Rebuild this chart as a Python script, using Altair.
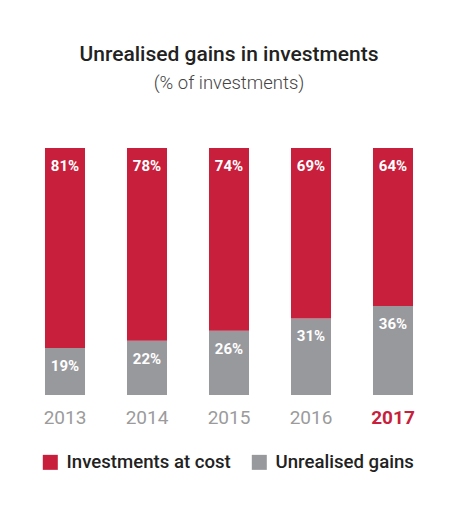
import altair as alt
import pandas as pd

years = ["2013", "2014", "2015", "2016", "2017"]
at_cost = [81, 78, 74, 69, 64]
gains = [19, 22, 26, 31, 36]
series = ["Investments at cost", "Unrealised gains"]
colors = ["#C81F3D", "#98999D"]

rows = []
for y, c, g in zip(years, at_cost, gains):
    rows.append({"year": y, "series": series[1], "start": 0, "end": g, "label": f"{g}%"})
    rows.append({"year": y, "series": series[0], "start": g, "end": g + c, "label": f"{c}%"})
df = pd.DataFrame(rows)

FONT = "Roboto"

x = alt.X("year:N", title=None, sort=years,
          scale=alt.Scale(paddingInner=0.512, paddingOuter=0.256),
          axis=alt.Axis(domain=False, ticks=False, labelAngle=0, labelPadding=13,
                        labelFont=FONT, labelFontSize=19,
                        labelColor={"expr": "datum.value == '2017' ? '#C81F3D' : '#9B9B9B'"},
                        labelFontWeight={"expr": "datum.value == '2017' ? 'bold' : 'normal'"}))
yscale = alt.Scale(domain=[0, 100])

bars = alt.Chart(df).mark_bar().encode(
    x=x,
    y=alt.Y("start:Q", scale=yscale, axis=None),
    y2="end:Q",
    color=alt.Color("series:N", sort=series,
                    scale=alt.Scale(domain=series, range=colors),
                    legend=alt.Legend(title=None, orient="none", direction="horizontal",
                                      columns=2, legendX=17, legendY=305,
                                      symbolType="square", symbolSize=225,
                                      symbolStrokeWidth=0, labelFont=FONT,
                                      labelFontSize=18.6, labelFontWeight=500,
                                      labelColor="#222222", labelOffset=7,
                                      columnPadding=19, labelLimit=300)),
)

labels = alt.Chart(df).mark_text(font=FONT, fontSize=15, fontWeight="bold",
                                 color="white", baseline="alphabetic", dy=23).encode(
    x=alt.X("year:N", sort=years),
    y=alt.Y("end:Q", scale=yscale),
    text="label:N",
)

chart = (bars + labels).properties(
    width=410, height=247,
    autosize=alt.AutoSizeParams(type="none"),
    padding={"left": 16, "top": 140, "right": 10, "bottom": 110},
    background="white",
    title=alt.TitleParams(
        text="Unrealised gains in investments",
        subtitle="(% of investments)",
        anchor="middle", frame="group",
        font=FONT, fontSize=21, fontWeight=500, color="#222222",
        subtitleFont=FONT, subtitleFontSize=18.5, subtitleFontWeight=300,
        subtitleColor="#444444", subtitlePadding=9, offset=56,
    ),
).configure_view(stroke=None)

chart.save("out.html", embed_options={"renderer": "svg", "actions": False})
